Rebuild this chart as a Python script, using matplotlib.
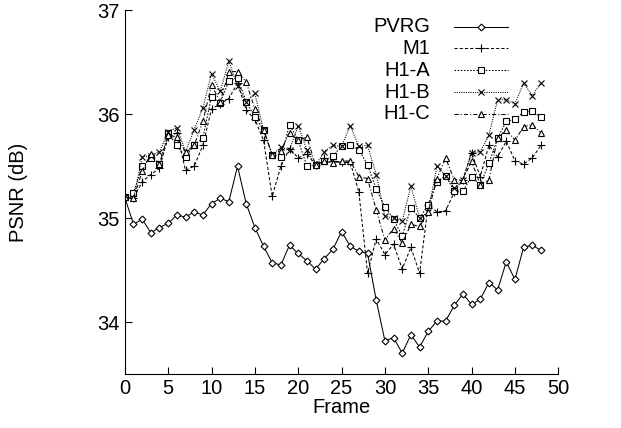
import matplotlib
matplotlib.use("Agg")
import matplotlib.pyplot as plt
import numpy as np

plt.rcParams['font.family'] = ['Liberation Sans', 'DejaVu Sans']

# data
frames = list(range(49))
pvrg = [35.20, 34.94, 34.99, 34.86, 34.91, 34.95, 35.03, 35.01, 35.06, 35.03,
        35.14, 35.19, 35.16, 35.50, 35.14, 34.91, 34.73, 34.57, 34.55, 34.74,
        34.66, 34.59, 34.51, 34.61, 34.70, 34.87, 34.73, 34.68, 34.66, 34.21,
        33.82, 33.85, 33.70, 33.88, 33.76, 33.91, 34.01, 34.01, 34.16, 34.27,
        34.17, 34.22, 34.38, 34.31, 34.58, 34.41, 34.72, 34.74, 34.69]
m1 = [35.20, 35.19, 35.35, 35.42, 35.48, 35.78, 35.82, 35.46, 35.50, 35.70,
      36.05, 36.10, 36.15, 36.30, 36.04, 35.95, 35.75, 35.21, 35.50, 35.67,
      35.58, 35.62, 35.51, 35.58, 35.55, 35.54, 35.54, 35.25, 34.47, 34.80,
      34.65, 34.75, 34.51, 34.72, 34.47, 35.13, 35.06, 35.07, 35.25, 35.37,
      35.63, 35.40, 35.70, 35.59, 35.74, 35.55, 35.52, 35.58, 35.70]
h1a = [35.20, 35.24, 35.50, 35.58, 35.52, 35.82, 35.70, 35.59, 35.70, 35.77,
       36.17, 36.11, 36.32, 36.35, 36.12, 35.97, 35.85, 35.61, 35.59, 35.90,
       35.75, 35.50, 35.51, 35.55, 35.60, 35.69, 35.70, 35.66, 35.51, 35.28,
       35.11, 34.99, 34.83, 35.10, 35.00, 35.13, 35.35, 35.41, 35.26, 35.26,
       35.40, 35.32, 35.53, 35.77, 35.93, 35.95, 36.02, 36.03, 35.97]
h1b = [35.20, 35.19, 35.59, 35.60, 35.64, 35.83, 35.87, 35.64, 35.85, 36.06,
       36.39, 36.22, 36.51, 36.27, 36.12, 36.20, 35.85, 35.61, 35.68, 35.66,
       35.89, 35.66, 35.51, 35.64, 35.70, 35.69, 35.89, 35.69, 35.70, 35.42,
       35.02, 35.00, 34.97, 35.31, 35.00, 35.06, 35.50, 35.41, 35.29, 35.37,
       35.63, 35.64, 35.80, 36.14, 36.14, 36.10, 36.30, 36.18, 36.30]
h1c = [35.20, 35.19, 35.45, 35.62, 35.52, 35.80, 35.78, 35.64, 35.70, 35.93,
       36.28, 36.12, 36.41, 36.41, 36.31, 36.05, 35.85, 35.61, 35.65, 35.82,
       35.75, 35.78, 35.51, 35.55, 35.53, 35.55, 35.55, 35.40, 35.38, 35.08,
       34.79, 34.90, 34.76, 34.94, 34.92, 35.06, 35.38, 35.58, 35.37, 35.37,
       35.55, 35.32, 35.37, 35.77, 35.85, 35.75, 35.88, 35.90, 35.82]

labels = ['PVRG', 'M1', 'H1-A', 'H1-B', 'H1-C']
series = [pvrg, m1, h1a, h1b, h1c]
styles = [dict(ls='-', marker='D', ms=3.5),
          dict(ls=(0, (3, 2)), marker='+', ms=5.5),
          dict(ls=(0, (1.5, 1.5)), marker='s', ms=4),
          dict(ls=(0, (1, 1.2)), marker='x', ms=4.5),
          dict(ls=(0, (4, 2, 1, 2)), marker='^', ms=4)]

fig = plt.figure(figsize=(6.21, 4.28), dpi=100)
ax = fig.add_axes([0.201, 0.126, 0.698, 0.85])

for lab, ys, st in zip(labels, series, styles):
    ax.plot(frames, ys, color='black', lw=0.75, mfc='white', mec='black',
            mew=0.8, **st)

# legend drawn gnuplot style: right-aligned text, sample line to its right
for i, (lab, st) in enumerate(zip(labels, styles)):
    yy = 0.955 - i * 0.06
    ax.text(0.705, yy, lab, transform=ax.transAxes, ha='right', va='center',
            fontsize=14.5)
    ax.plot([0.76, 0.885], [yy, yy], transform=ax.transAxes, color='black',
            lw=0.75, ls=st['ls'])
    ax.plot([0.8225], [yy], transform=ax.transAxes, color='black',
            marker=st['marker'], ms=st['ms'], mfc='white', mec='black', mew=0.8)

ax.set_xlim(0, 50)
ax.set_ylim(33.5, 37)
ax.set_xticks(range(0, 51, 5))
ax.set_yticks([34, 35, 36, 37])
ax.tick_params(direction='in', length=5, labelsize=14.5, width=0.8)
ax.spines['top'].set_visible(False)
ax.spines['right'].set_visible(False)
ax.set_xlabel('Frame', fontsize=14.5, labelpad=0)
ax.set_ylabel('PSNR (dB)', fontsize=14.5, labelpad=50)

fig.savefig('out.png', dpi=100)
